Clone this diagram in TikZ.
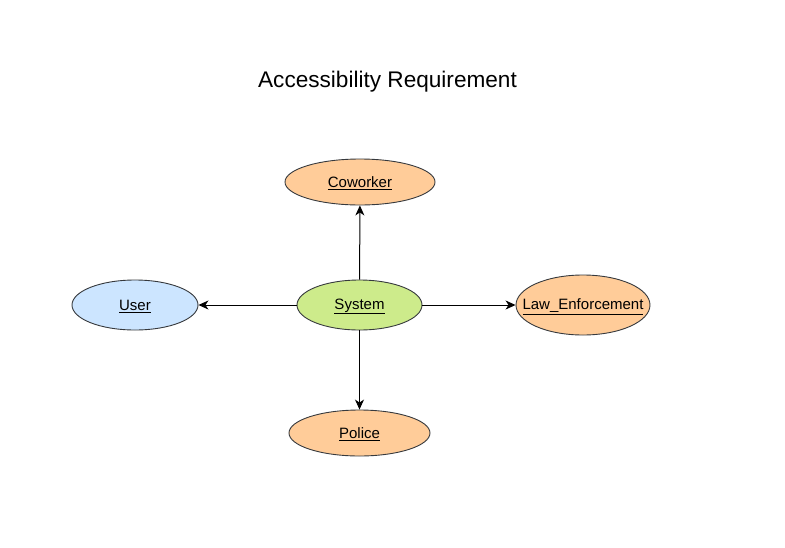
\documentclass[tikz,border=0pt]{standalone}
\usepackage{fontspec}
\setmainfont{Liberation Sans}
\usetikzlibrary{shapes.geometric,arrows.meta}
\definecolor{orangefill}{HTML}{FFCC99}
\definecolor{bluefill}{HTML}{CCE5FF}
\definecolor{greenfill}{HTML}{CDEB8B}
\definecolor{edgegray}{HTML}{36393D}
\newcommand{\ulab}[1]{\underline{#1}}
\tikzset{
  uc/.style={ellipse, draw=edgegray, line width=0.9pt, inner sep=0pt},
  uctext/.style={inner sep=0pt, font=\fontsize{15}{17}\selectfont, yshift=-1.5pt},
  conn/.style={draw=black, line width=1pt, -{Stealth[length=10pt,width=9pt,inset=3pt]}}
}
\begin{document}
\begin{tikzpicture}[x=1pt,y=-1pt]
\useasboundingbox[fill=white] (0,0) rectangle (785,547);
\node[font=\fontsize{22.6}{26}\selectfont] (title) at (387.5,82) {Accessibility Requirement};
\node[uc, fill=orangefill, minimum width=150pt, minimum height=46pt] (coworker) at (360,182) {};
\node[uctext] (coworkert) at (coworker) {\ulab{Coworker}};
\node[uc, fill=bluefill, minimum width=126pt, minimum height=50pt] (user) at (135,305) {};
\node[uctext] (usert) at (user) {\ulab{User}};
\node[uc, fill=greenfill, minimum width=125pt, minimum height=50pt] (system) at (359.5,305) {};
\node[uctext] (systemt) at (system) {\ulab{System}};
\node[uc, fill=orangefill, minimum width=134pt, minimum height=60pt] (law) at (583,305) {};
\node[uctext] (lawt) at (law) {\ulab{Law\_Enforcement}};
\node[uc, fill=orangefill, minimum width=141pt, minimum height=46pt] (police) at (359.5,433) {};
\node[uctext] (policet) at (police) {\ulab{Police}};
\draw[conn] (system) -- (coworker);
\draw[conn] (system) -- (user);
\draw[conn] (system) -- (law);
\draw[conn] (system) -- (police);
\end{tikzpicture}
\end{document}
